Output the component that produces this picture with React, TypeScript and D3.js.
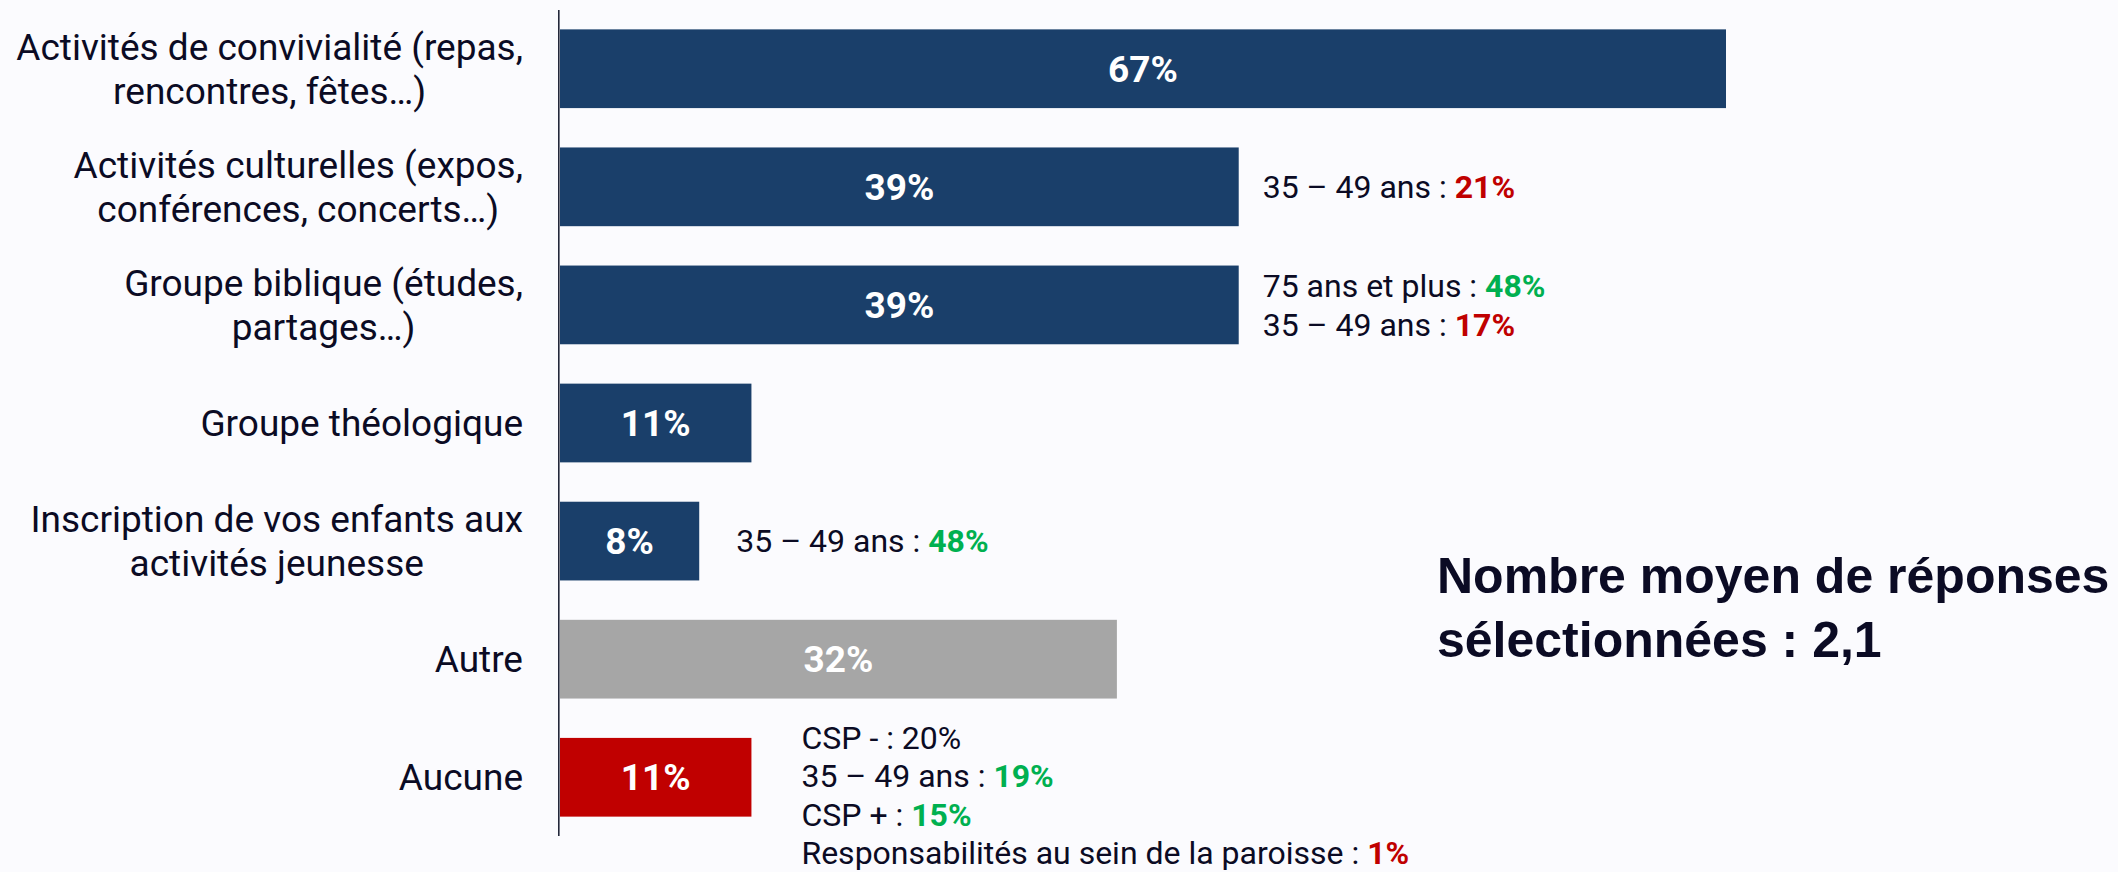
import { useEffect, useRef } from "react"
import * as d3 from "d3"

const categories = [
  "Activités de convivialité (repas,\nrencontres, fêtes…)",
  "Activités culturelles (expos,\nconférences, concerts…)",
  "Groupe biblique (études,\npartages…)",
  "Groupe théologique",
  "Inscription de vos enfants aux\nactivités jeunesse",
  "Autre",
  "Aucune",
]
const values = [67, 39, 39, 11, 8, 32, 11]
const barGroups = ["item", "item", "item", "item", "item", "other", "none"]

type Note = { label: string; value: string; trend: "up" | "down" | "flat" }
const notes: Note[][] = [
  [],
  [{ label: "35 – 49 ans : ", value: "21%", trend: "down" }],
  [
    { label: "75 ans et plus : ", value: "48%", trend: "up" },
    { label: "35 – 49 ans : ", value: "17%", trend: "down" },
  ],
  [],
  [{ label: "35 – 49 ans : ", value: "48%", trend: "up" }],
  [],
  [
    { label: "CSP - : ", value: "20%", trend: "flat" },
    { label: "35 – 49 ans : ", value: "19%", trend: "up" },
    { label: "CSP + : ", value: "15%", trend: "up" },
    { label: "Responsabilités au sein de la paroisse : ", value: "1%", trend: "down" },
  ],
]

const averageLines = ["Nombre moyen de réponses", "sélectionnées : 2,1"]

const W = 2118
const H = 872
const INK = "#0b0b24"
const BG = "#fbfbfe"
const barColor: Record<string, string> = { item: "#1a3f6a", other: "#a6a6a6", none: "#c00000" }
const trendColor: Record<string, string> = { up: "#00b050", down: "#c00000", flat: INK }

// free-placed annotation boxes: gap after bar end, vertical shift
const noteDx = [0, 24, 24, 0, 37, 0, 50]
const noteDy = [0, 0, 0, 0, 0, 0, 18]

export default function App() {
  const svgRef = useRef<SVGSVGElement>(null)

  useEffect(() => {
    const svgEl = svgRef.current
    if (!svgEl) return

    const draw = () => {
      const svg = d3.select(svgEl)
      svg.selectAll("*").remove()
      svg.append("rect").attr("width", W).attr("height", H).attr("fill", BG)

      const x = d3.scaleLinear().domain([0, d3.max(values) as number]).range([560, 1726])
      const y = d3.scaleBand<string>().domain(categories).range([10, 836])
        .paddingInner(1 / 3).paddingOuter(0.164)

      const rows = categories.map((c, i) => ({ c, v: values[i], g: barGroups[i], notes: notes[i], i }))

      svg.append("g").selectAll("rect").data(rows).join("rect")
        .attr("x", x(0))
        .attr("y", d => y(d.c) as number)
        .attr("width", d => x(d.v) - x(0))
        .attr("height", y.bandwidth())
        .attr("fill", d => barColor[d.g])

      svg.append("line")
        .attr("x1", 558.8).attr("x2", 558.8).attr("y1", 10).attr("y2", 836)
        .attr("stroke", "#23273a").attr("stroke-width", 1.6)

      const cy = (c: string) => (y(c) as number) + y.bandwidth() / 2

      // values inside bars
      svg.append("g").selectAll("text").data(rows).join("text")
        .attr("x", d => (x(0) + x(d.v)) / 2)
        .attr("y", d => cy(d.c) + 37 * 0.355)
        .attr("text-anchor", "middle")
        .attr("font-family", "Roboto, sans-serif")
        .attr("font-weight", 700)
        .attr("font-size", 37)
        .attr("fill", "#ffffff")
        .text(d => `${d.v}%`)

      // category labels: block right-aligned to the axis, lines centred inside it
      const labelSize = 37
      const labelLh = 44
      const labelRight = 523
      const lg = svg.append("g")
      rows.forEach(d => {
        const lines = d.c.split("\n")
        const texts = lines.map((l, k) =>
          lg.append("text")
            .attr("y", cy(d.c) + (k - (lines.length - 1) / 2) * labelLh + labelSize * 0.355)
            .attr("text-anchor", "middle")
            .attr("font-family", "Roboto, sans-serif")
            .attr("font-size", labelSize)
            .attr("fill", INK)
            .text(l))
        const widths = texts.map(t => (t.node() as SVGTextElement).getComputedTextLength())
        const maxW = d3.max(widths) || 0
        texts.forEach(t => t.attr("x", labelRight - maxW / 2))
      })

      // annotations next to bars
      const noteSize = 32
      const noteLh = 38.5
      const ng = svg.append("g")
      rows.forEach(d => {
        const n = d.notes.length
        d.notes.forEach((note, k) => {
          const t = ng.append("text")
            .attr("x", x(d.v) + noteDx[d.i])
            .attr("y", cy(d.c) + noteDy[d.i] + (k - (n - 1) / 2) * noteLh + noteSize * 0.355)
            .attr("font-family", "Roboto, sans-serif")
            .attr("font-size", noteSize)
            .attr("fill", INK)
          t.append("tspan").text(note.label)
          t.append("tspan")
            .attr("font-weight", note.trend === "flat" ? 400 : 700)
            .attr("fill", trendColor[note.trend])
            .text(note.value)
        })
      })

      // average number of answers
      svg.append("g").selectAll("text").data(averageLines).join("text")
        .attr("x", 1437)
        .attr("y", (_, k) => 593 + k * 64)
        .attr("font-family", "'Liberation Sans', Arial, sans-serif")
        .attr("font-weight", 700)
        .attr("font-size", 50)
        .attr("fill", INK)
        .text(d => d)
    }

    draw()
    if (document.fonts) document.fonts.ready.then(draw)
  }, [])

  return (
    <>
      <style>{`body{margin:0;background:${BG}}`}</style>
      <svg ref={svgRef} width={W} height={H} style={{ display: "block" }} />
    </>
  )
}
